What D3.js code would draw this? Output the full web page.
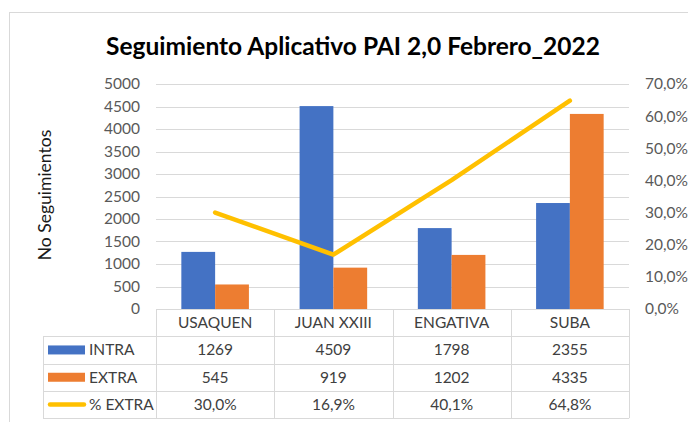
<!DOCTYPE html>
<html>
<head>
<meta charset="utf-8">
<script src="https://cdn.jsdelivr.net/npm/d3@7"></script>
<style>
  html, body { margin: 0; padding: 0; background: #ffffff; }
  svg { display: block; }
</style>
</head>
<body>
<div id="chart"></div>
<script>
// ---- data ----
const title = "Seguimiento Aplicativo PAI 2,0 Febrero_2022";
const yAxisTitle = "No Seguimientos";
const categories = ["USAQUEN", "JUAN XXIII", "ENGATIVA", "SUBA"];
const seriesNames = ["INTRA", "EXTRA", "% EXTRA"];
const intraValues = [1269, 4509, 1798, 2355];
const extraValues = [545, 919, 1202, 4335];
const pctExtraValues = [30.0, 16.9, 40.1, 64.8];
const leftTicks = [0, 500, 1000, 1500, 2000, 2500, 3000, 3500, 4000, 4500, 5000];
const rightTicks = [0, 10, 20, 30, 40, 50, 60, 70];

// ---- layout ----
const W = 688, H = 422;
const plot = { left: 156, right: 629, top: 84, bottom: 309 };
const rowH = 27.3;
const tableLeft = 43;
const font = "Lato, 'Open Sans', 'Liberation Sans', sans-serif";
const colors = { INTRA: "#4472C4", EXTRA: "#ED7D31", PCT: "#FFC000" };
const gridColor = "#D9D9D9";

const locale = d3.formatLocale({ decimal: ",", thousands: ".", grouping: [3], currency: ["$", ""] });
const fmtPct = v => locale.format(".1f")(v) + "%";

const svg = d3.select("#chart").append("svg").attr("width", W).attr("height", H);
svg.append("rect").attr("width", W).attr("height", H).attr("fill", "#fff");

// chart border
svg.append("rect").attr("x", 9.5).attr("y", 12.5).attr("width", W + 20).attr("height", H + 20)
  .attr("fill", "none").attr("stroke", gridColor).attr("stroke-width", 1);

// title
svg.append("text").attr("x", 353).attr("y", 55).attr("text-anchor", "middle")
  .attr("font-family", font).attr("font-weight", "bold").attr("font-size", 24.5)
  .attr("fill", "#000").text(title);

// scales
const x = d3.scaleBand().domain(categories).range([plot.left, plot.right]).paddingInner(0).paddingOuter(0);
const xs = d3.scaleBand().domain(["INTRA", "EXTRA"]).range([0, x.bandwidth()]).paddingInner(0).paddingOuter(0.75);
const yL = d3.scaleLinear().domain([0, 5000]).range([plot.bottom, plot.top]);
const yR = d3.scaleLinear().domain([0, 70]).range([plot.bottom, plot.top]);

// gridlines
svg.append("g").selectAll("line").data(leftTicks.filter(d => d > 0)).join("line")
  .attr("x1", plot.left).attr("x2", plot.right)
  .attr("y1", d => Math.round(yL(d)) + 0.5).attr("y2", d => Math.round(yL(d)) + 0.5)
  .attr("stroke", gridColor).attr("stroke-width", 1);

// left axis labels
svg.append("g").selectAll("text").data(leftTicks).join("text")
  .attr("x", 140).attr("y", d => yL(d)).attr("dy", "0.35em").attr("text-anchor", "end")
  .attr("font-family", font).attr("font-size", 15.5).attr("fill", "#595959").text(d => d);

// right axis labels
svg.append("g").selectAll("text").data(rightTicks).join("text")
  .attr("x", 645).attr("y", d => yR(d)).attr("dy", "0.35em").attr("text-anchor", "start")
  .attr("font-family", font).attr("font-size", 15.5).attr("fill", "#595959").text(d => fmtPct(d));

// y axis title
svg.append("text").attr("transform", "translate(51,195) rotate(-90)").attr("text-anchor", "middle")
  .attr("font-family", font).attr("font-size", 17.5).attr("fill", "#1a1a1a").text(yAxisTitle);

// bars
const barData = [];
categories.forEach((c, i) => {
  barData.push({ cat: c, s: "INTRA", v: intraValues[i] });
  barData.push({ cat: c, s: "EXTRA", v: extraValues[i] });
});
svg.append("g").selectAll("rect").data(barData).join("rect")
  .attr("x", d => x(d.cat) + xs(d.s)).attr("width", xs.bandwidth())
  .attr("y", d => yL(d.v)).attr("height", d => yL(0) - yL(d.v))
  .attr("fill", d => colors[d.s]);

// line
const line = d3.line().x((d, i) => x(categories[i]) + x.bandwidth() / 2).y(d => yR(d));
svg.append("path").datum(pctExtraValues).attr("d", line).attr("fill", "none")
  .attr("stroke", colors.PCT).attr("stroke-width", 4.5).attr("stroke-linecap", "round").attr("stroke-linejoin", "round");

// ---- data table ----
const tb = svg.append("g");
const t0 = plot.bottom;
const rowY = i => t0 + i * rowH;
tb.append("line").attr("x1", plot.left).attr("x2", plot.right).attr("y1", t0 + 0.5).attr("y2", t0 + 0.5)
  .attr("stroke", gridColor);
[1, 2, 3, 4].forEach(i => {
  tb.append("line").attr("x1", tableLeft).attr("x2", plot.right)
    .attr("y1", Math.round(rowY(i)) + 0.5).attr("y2", Math.round(rowY(i)) + 0.5).attr("stroke", gridColor);
});
const colEdges = categories.map(c => x(c)).concat([plot.right]);
colEdges.forEach(xe => {
  tb.append("line").attr("x1", Math.round(xe) + 0.5).attr("x2", Math.round(xe) + 0.5)
    .attr("y1", t0).attr("y2", rowY(4)).attr("stroke", gridColor);
});
tb.append("line").attr("x1", tableLeft + 0.5).attr("x2", tableLeft + 0.5)
  .attr("y1", rowY(1)).attr("y2", rowY(4)).attr("stroke", gridColor);

tb.selectAll("text.cat").data(categories).join("text").attr("class", "cat")
  .attr("x", d => x(d) + x.bandwidth() / 2).attr("y", rowY(0) + rowH / 2).attr("dy", "0.35em")
  .attr("text-anchor", "middle").attr("font-family", font).attr("font-size", 15.5).attr("fill", "#404040")
  .text(d => d);

const rows = [
  { name: seriesNames[0], vals: intraValues.map(String), type: "rect", color: colors.INTRA },
  { name: seriesNames[1], vals: extraValues.map(String), type: "rect", color: colors.EXTRA },
  { name: seriesNames[2], vals: pctExtraValues.map(fmtPct), type: "line", color: colors.PCT }
];
rows.forEach((r, ri) => {
  const cy = rowY(ri + 1) + rowH / 2;
  if (r.type === "rect") {
    tb.append("rect").attr("x", 48).attr("y", cy - 4.5).attr("width", 37).attr("height", 9).attr("fill", r.color);
  } else {
    tb.append("line").attr("x1", 50).attr("x2", 84).attr("y1", cy).attr("y2", cy)
      .attr("stroke", r.color).attr("stroke-width", 4.5).attr("stroke-linecap", "round");
  }
  tb.append("text").attr("x", 89).attr("y", cy).attr("dy", "0.35em")
    .attr("font-family", font).attr("font-size", 15.5).attr("fill", "#404040").text(r.name);
  tb.selectAll(null).data(r.vals).join("text")
    .attr("x", (d, i) => x(categories[i]) + x.bandwidth() / 2).attr("y", cy).attr("dy", "0.35em")
    .attr("text-anchor", "middle").attr("font-family", font).attr("font-size", 15.5).attr("fill", "#404040")
    .text(d => d);
});
</script>
</body>
</html>
